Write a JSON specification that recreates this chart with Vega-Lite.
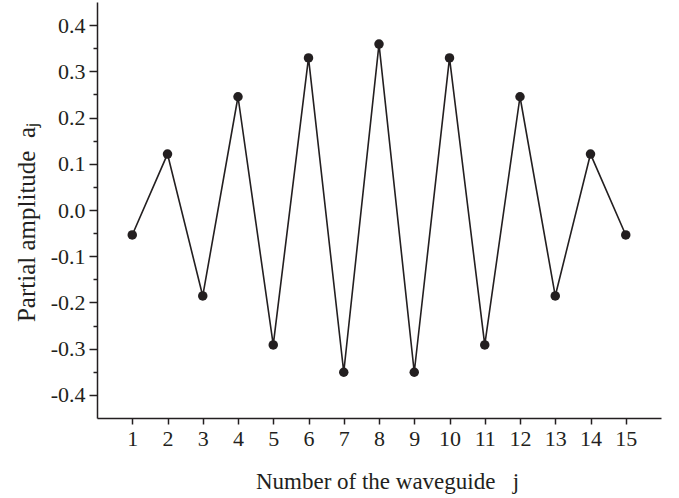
{
  "$schema": "https://vega.github.io/schema/vega-lite/v6.json",
  "width": 564,
  "height": 416,
  "autosize": {"type": "none"},
  "padding": {"left": 97, "top": 2, "right": 18, "bottom": 80},
  "background": "white",
  "config": {
    "view": {"stroke": null},
    "axis": {
      "labelFont": "Liberation Serif",
      "titleFont": "Liberation Serif",
      "labelColor": "#231f20",
      "titleColor": "#231f20",
      "domainColor": "#231f20",
      "tickColor": "#231f20",
      "domainWidth": 1.5,
      "tickWidth": 1.5,
      "grid": false,
      "labelFontSize": 22,
      "titleFontWeight": "normal",
      "labelFlush": false,
      "labelOverlap": false
    }
  },
  "data": {
    "values": [
      {"j": 1, "a": -0.054},
      {"j": 2, "a": 0.121},
      {"j": 3, "a": -0.186},
      {"j": 4, "a": 0.245},
      {"j": 5, "a": -0.292},
      {"j": 6, "a": 0.329},
      {"j": 7, "a": -0.351},
      {"j": 8, "a": 0.359},
      {"j": 9, "a": -0.351},
      {"j": 10, "a": 0.329},
      {"j": 11, "a": -0.292},
      {"j": 12, "a": 0.245},
      {"j": 13, "a": -0.186},
      {"j": 14, "a": 0.121},
      {"j": 15, "a": -0.054}
    ]
  },
  "encoding": {
    "x": {
      "field": "j",
      "type": "quantitative",
      "scale": {"domain": [0, 16], "nice": false},
      "axis": {
        "title": "Number of the waveguide\u00a0\u00a0\u00a0j",
        "values": [1, 2, 3, 4, 5, 6, 7, 8, 9, 10, 11, 12, 13, 14, 15],
        "format": "d",
        "tickSize": 6,
        "labelPadding": 4,
        "titleFontSize": 23,
        "titlePadding": 21,
        "titleX": 290
      }
    },
    "y": {
      "field": "a",
      "type": "quantitative",
      "scale": {"domain": [-0.45, 0.45], "nice": false, "zero": false},
      "axis": {
        "title": "Partial amplitude\u00a0\u00a0aⱼ",
        "values": [-0.4, -0.35, -0.3, -0.25, -0.2, -0.15, -0.1, -0.05, 0, 0.05, 0.1, 0.15, 0.2, 0.25, 0.3, 0.35, 0.4],
        "labelExpr": "abs(round(datum.value*20))%2==1 ? '' : replace(format(datum.value, '.1f'), '−', '-')",
        "tickSize": {"condition": {"test": "abs(round(datum.value*20))%2==1", "value": 4}, "value": 8},
        "labelPadding": 4,
        "titleFontSize": 25,
        "titlePadding": 11,
        "titleY": 220
      }
    }
  },
  "layer": [
    {"mark": {"type": "line", "color": "#231f20", "strokeWidth": 1.6}},
    {"mark": {"type": "point", "filled": true, "opacity": 1, "size": 90, "color": "#231f20"}}
  ]
}
